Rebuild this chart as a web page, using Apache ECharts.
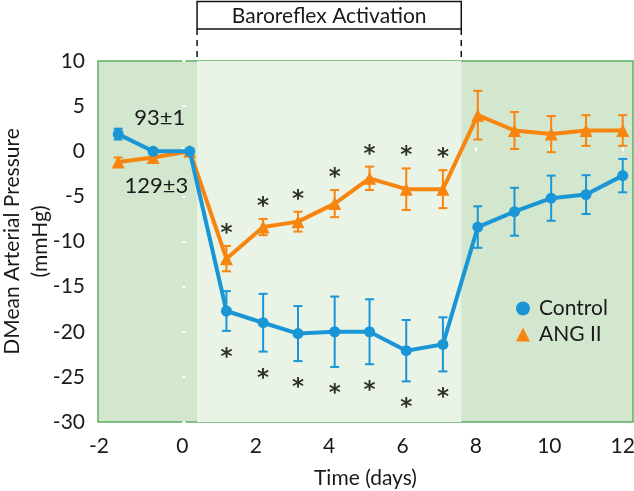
<!DOCTYPE html>
<html><head><meta charset="utf-8">
<script src="https://cdn.jsdelivr.net/npm/echarts@6/dist/echarts.min.js"></script>
<style>html,body{margin:0;padding:0;background:#fff}#c{width:634px;height:491px}</style>
</head><body><div id="c"></div>
<script>
// ---- data ----
const days = [-1.75, -0.8, 0.2, 1.2, 2.2, 3.15, 4.15, 5.1, 6.1, 7.1, 8.05, 9.05, 10.05, 11.0, 12.0];
const controlMean = [1.9, 0, 0, -17.7, -19.0, -20.2, -20.0, -20.0, -22.1, -21.4, -8.4, -6.7, -5.2, -4.8, -2.7];
const controlSem  = [0.6, 0.3, 0, 2.2, 3.2, 3.05, 3.9, 3.6, 3.4, 3.0, 2.3, 2.65, 2.5, 2.15, 1.85];
const angMean = [-1.2, -0.7, 0, -11.9, -8.4, -7.8, -5.8, -3.0, -4.2, -4.2, 4.0, 2.3, 1.9, 2.3, 2.3];
const angSem  = [0.5, 0.4, 0, 1.4, 0.9, 1.1, 1.5, 1.3, 2.3, 2.1, 2.7, 2.05, 2.0, 1.7, 1.7];
const controlSig = [0,0,0,1,1,1,1,1,1,1,0,0,0,0,0];
const angSig     = [0,0,0,1,1,1,1,1,1,1,0,0,0,0,0];
const xTickValues = [-2, 0, 2, 4, 6, 8, 10, 12];
const xTickLabels = ['-2', '0', '2', '4', '6', '8', '10', '12'];
const activation = [0.4, 7.6];
const baselineControl = '93±1';
const baselineAng = '129±3';

// ---- styling ----
const BLUE = '#1a96d6', ORANGE = '#f7850f';
const DARK = '#d3e6ce', LIGHT = '#e9f3e6', BORDER = '#5caf60';
const FONT = 'Lato';
const TXT = '#1a1a1a';
const X_MIN = -2.3, X_MAX = 12.28;

const chart = echarts.init(document.getElementById('c'));

function errSeries(name, color, mean, sem, extra) {
  return Object.assign({
    type: 'custom', name: name + ' err', silent: true, z: 2,
    renderItem: (params, api) => {
      const x = api.value(0), lo = api.value(1), hi = api.value(2);
      if (hi - lo <= 0) return null;
      const p1 = api.coord([x, hi]), p2 = api.coord([x, lo]);
      const w = 4.5, st = {stroke: color, lineWidth: 2};
      return {type: 'group', children: [
        {type: 'line', shape: {x1: p1[0], y1: p1[1], x2: p2[0], y2: p2[1]}, style: st},
        {type: 'line', shape: {x1: p1[0]-w, y1: p1[1], x2: p1[0]+w, y2: p1[1]}, style: st},
        {type: 'line', shape: {x1: p2[0]-w, y1: p2[1], x2: p2[0]+w, y2: p2[1]}, style: st}
      ]};
    },
    encode: {x: 0, y: [1, 2]},
    data: days.map((d, i) => [d, mean[i] - sem[i], mean[i] + sem[i]])
  }, extra || {});
}

function starSeries(name, mean, sem, sig, dir) {
  const data = [];
  days.forEach((d, i) => { if (sig[i]) data.push([d, mean[i] + dir * sem[i]]); });
  return {
    type: 'scatter', name: name + ' sig', silent: true, z: 5,
    symbolSize: 0, data: data,
    label: {show: true, formatter: '*', position: 'inside', offset: [0, dir > 0 ? -12 : 27],
      fontFamily: 'DejaVu Sans', fontSize: 23, fontWeight: 'bold', color: '#000'}
  };
}

const xCustom = xTickValues.map(v => Math.max(v, X_MIN));

chart.setOption({
  animation: false,
  grid: {left: 98, right: 1, top: 61, bottom: 69, show: true, backgroundColor: DARK,
    borderColor: BORDER, borderWidth: 1.5, outerBoundsMode: 'none', containLabel: false},
  xAxis: {
    type: 'value', min: X_MIN, max: X_MAX,
    name: 'Time (days)', nameLocation: 'middle', nameGap: 46,
    nameTextStyle: {fontFamily: FONT, fontSize: 21, color: TXT},
    axisLine: {show: false},
    splitLine: {show: false},
    axisTick: {show: true, inside: true, length: 4, customValues: xTickValues.filter(v => v >= 0),
      lineStyle: {color: '#ffffff', width: 2}},
    axisLabel: {fontFamily: FONT, fontSize: 21, color: TXT, margin: 14, customValues: xCustom,
      alignMinLabel: 'right', alignMaxLabel: 'center', hideOverlap: false,
      formatter: v => { let k = 0, b = 1e9; xCustom.forEach((c, i) => { if (Math.abs(c - v) < b) { b = Math.abs(c - v); k = i; } }); return xTickLabels[k]; }}
  },
  yAxis: {
    type: 'value', min: -30, max: 10, interval: 5,
    name: 'DMean Arterial Pressure\n(mmHg)', nameLocation: 'middle', nameGap: 44, nameRotate: 90,
    nameMoveOverlap: false,
    nameTextStyle: {fontFamily: FONT, fontSize: 21, color: TXT, lineHeight: 28},
    axisLine: {show: false},
    splitLine: {show: false},
    axisTick: {show: true, inside: true, length: 3, lineStyle: {color: '#ffffff', width: 2}},
    axisLabel: {fontFamily: FONT, fontSize: 21, color: TXT, margin: 13}
  },
  legend: {
    orient: 'vertical', left: 511, top: 293, itemGap: 5, itemWidth: 14, itemHeight: 14,
    textStyle: {fontFamily: FONT, fontSize: 21, color: TXT, padding: [0, 0, 0, 4]},
    data: [{name: 'Control', icon: 'circle'}, {name: 'ANG II', icon: 'triangle'}]
  },
  series: [
    errSeries('ANG II', ORANGE, angMean, angSem, {
      markArea: {silent: true, itemStyle: {color: LIGHT}, data: [[{xAxis: activation[0]}, {xAxis: activation[1]}]]}
    }),
    {type: 'line', name: 'ANG II', data: days.map((d, i) => [d, angMean[i]]), z: 3,
      symbol: 'triangle', symbolSize: 13, color: ORANGE, lineStyle: {width: 4, color: ORANGE},
      itemStyle: {color: ORANGE}},
    errSeries('Control', BLUE, controlMean, controlSem, {z: 4}),
    {type: 'line', name: 'Control', data: days.map((d, i) => [d, controlMean[i]]), z: 4,
      symbol: 'circle', symbolSize: 11, color: BLUE, lineStyle: {width: 4, color: BLUE},
      itemStyle: {color: BLUE}},
    starSeries('ANG II', angMean, angSem, angSig, 1),
    starSeries('Control', controlMean, controlSem, controlSig, -1)
  ]
});

// Annotation box above the plot, aligned to the activation period through the x scale
const xa = chart.convertToPixel({xAxisIndex: 0}, activation[0]);
const xb = chart.convertToPixel({xAxisIndex: 0}, activation[1]);
const yTop = chart.convertToPixel({yAxisIndex: 0}, 10);
const boxTop = 1.5, boxBottom = 29;
const ann1 = chart.convertToPixel({xAxisIndex: 0, yAxisIndex: 0}, [-0.62, 3.65]);
const ann2 = chart.convertToPixel({xAxisIndex: 0, yAxisIndex: 0}, [-0.71, -3.8]);
chart.setOption({
  graphic: [
    {type: 'rect', shape: {x: xa, y: boxTop, width: xb - xa, height: boxBottom - boxTop},
      style: {fill: '#fff', stroke: '#111', lineWidth: 1.5}, z: 10},
    {type: 'text', x: (xa + xb) / 2, y: (boxTop + boxBottom) / 2 + 1,
      style: {text: 'Baroreflex Activation', fontFamily: FONT, fontSize: 21, fill: TXT,
        align: 'center', verticalAlign: 'middle'}, z: 11},
    {type: 'line', shape: {x1: xa, y1: boxBottom, x2: xa, y2: yTop},
      style: {stroke: '#111', lineWidth: 1.5, lineDash: [6, 5]}, z: 10},
    {type: 'line', shape: {x1: xb, y1: boxBottom, x2: xb, y2: yTop},
      style: {stroke: '#111', lineWidth: 1.5, lineDash: [6, 5]}, z: 10},
    {type: 'text', x: ann1[0], y: ann1[1],
      style: {text: baselineControl, fontFamily: FONT, fontSize: 22, fill: TXT, align: 'center', verticalAlign: 'middle'}, z: 11},
    {type: 'text', x: ann2[0], y: ann2[1],
      style: {text: baselineAng, fontFamily: FONT, fontSize: 22, fill: TXT, align: 'center', verticalAlign: 'middle'}, z: 11}
  ]
});
</script>
</body></html>
